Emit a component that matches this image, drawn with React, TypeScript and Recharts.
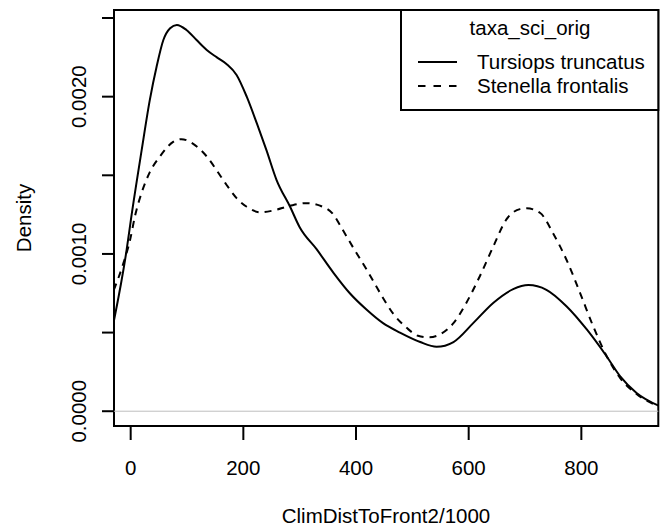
import { LineChart, Line, XAxis, YAxis, ReferenceLine, ReferenceArea } from 'recharts'

/* ── Density estimates ──────────────────────────────────────────────── */

const TURSIOPS_X = [
  -30, -7, 0.5, 19.5, 34, 46, 58, 70, 82, 99, 117, 135, 153, 170, 188, 206, 224, 241, 259, 283, 300, 330, 360, 389,
  419, 448, 478, 514, 543, 573, 608, 644, 679, 706, 738, 774, 810, 845, 869, 898, 937,
]
const TURSIOPS_Y = [
  0.00057, 0.00103, 0.00122, 0.00166, 0.00198, 0.00219, 0.00236, 0.002435, 0.002456, 0.002424, 0.00236, 0.002297,
  0.00225, 0.002208, 0.002138, 0.002, 0.00183, 0.00166, 0.00147, 0.0013, 0.00117, 0.00103, 0.00088, 0.00075, 0.000645,
  0.00056, 0.0005, 0.00044, 0.00041, 0.00044, 0.00056, 0.00069, 0.000776, 0.000802, 0.000772, 0.000666, 0.000518,
  0.000348, 0.000221, 0.000116, 0.000035,
]

const STENELLA_X = [
  -30, -13, -1, 7.6, 19.5, 34, 52, 76, 90, 111, 135, 153, 170, 188, 206, 230, 253, 283, 312, 336, 360, 372, 395, 419,
  443, 466, 490, 510, 530, 550, 573, 596, 620, 644, 667, 691, 703, 727, 750, 774, 798, 821, 845, 869, 898, 937,
]
const STENELLA_Y = [
  0.00077, 0.00094, 0.00109, 0.00124, 0.00139, 0.00152, 0.00162, 0.001714, 0.00173, 0.0017, 0.00162, 0.00153, 0.00144,
  0.001355, 0.0013, 0.001265, 0.001276, 0.001306, 0.001323, 0.001307, 0.00125, 0.00118, 0.00104, 0.0009, 0.00075,
  0.00062, 0.00053, 0.00048, 0.00047, 0.00049, 0.00056, 0.00069, 0.00086, 0.00105, 0.00122, 0.001285, 0.00129, 0.00126,
  0.00113, 0.00096, 0.00075, 0.00054, 0.00035, 0.00021, 0.00011, 0.00003,
]

const X_TICKS = [0, 200, 400, 600, 800]
const Y_TICKS = [0, 0.0005, 0.001, 0.0015, 0.002, 0.0025]
const Y_LABELLED = [0, 0.001, 0.002]

const X_DOMAIN: [number, number] = [-29.6, 936.6]
const Y_DOMAIN: [number, number] = [-0.000094, 0.002551]

const tursiops = TURSIOPS_X.map((x, i) => ({ x, y: TURSIOPS_Y[i] }))
const stenella = STENELLA_X.map((x, i) => ({ x, y: STENELLA_Y[i] }))

const FONT = '"Liberation Sans", Arial, Helvetica, sans-serif'
const FS = 20.5

/* ── Axis ticks (R style: rotated y labels, some ticks unlabelled) ──── */

function XTick({ x, y, payload }: any) {
  return (
    <text x={x} y={y + 33} textAnchor="middle" fontSize={FS} fontFamily={FONT} fill="#000">
      {payload.value}
    </text>
  )
}

function YTick({ y, payload }: any) {
  const v = payload.value as number
  if (!Y_LABELLED.some((t) => Math.abs(t - v) < 1e-9)) return null
  const bx = 86
  return (
    <text
      x={bx}
      y={y}
      transform={`rotate(-90, ${bx}, ${y})`}
      textAnchor="middle"
      fontSize={FS}
      fontFamily={FONT}
      fill="#000"
    >
      {v.toFixed(4)}
    </text>
  )
}

/* ── Component ──────────────────────────────────────────────────────── */

export default function App() {
  return (
    <div style={{ position: 'absolute', left: 0, top: 0, width: 663, height: 531, background: '#fff' }}>
      <LineChart width={663} height={531} margin={{ top: 10, right: 4.7, left: 14, bottom: 45 }}>
        <XAxis
          dataKey="x"
          type="number"
          domain={X_DOMAIN}
          ticks={X_TICKS}
          allowDataOverflow
          axisLine={false}
          tickSize={14}
          tickLine={{ stroke: '#000', strokeWidth: 2 }}
          tick={<XTick />}
          height={60}
        />
        <YAxis
          type="number"
          domain={Y_DOMAIN}
          ticks={Y_TICKS}
          allowDataOverflow
          axisLine={false}
          tickSize={12}
          tickLine={{ stroke: '#000', strokeWidth: 2 }}
          tick={<YTick />}
          width={100}
        />
        <ReferenceLine y={0} stroke="#bebebe" strokeWidth={1} />
        <Line
          data={tursiops}
          dataKey="y"
          type="monotone"
          stroke="#000"
          strokeWidth={2}
          dot={false}
          isAnimationActive={false}
        />
        <Line
          data={stenella}
          dataKey="y"
          type="monotone"
          stroke="#000"
          strokeWidth={2}
          strokeDasharray="7 6"
          dot={false}
          isAnimationActive={false}
        />
        <ReferenceArea
          x1={X_DOMAIN[0]}
          x2={X_DOMAIN[1]}
          y1={Y_DOMAIN[0]}
          y2={Y_DOMAIN[1]}
          fill="none"
          fillOpacity={0}
          stroke="#000"
          strokeWidth={2}
        />
      </LineChart>

      {/* Axis titles */}
      <svg
        width={663}
        height={531}
        style={{ position: 'absolute', left: 0, top: 0, pointerEvents: 'none' }}
        fontFamily={FONT}
      >
        <text x={31} y={218} transform="rotate(-90, 31, 218)" textAnchor="middle" fontSize={FS} fill="#000">
          Density
        </text>
        <text x={386} y={523} textAnchor="middle" fontSize={FS} fill="#000">
          ClimDistToFront2/1000
        </text>

        {/* Legend box */}
        <rect x={401} y={10} width={257.3} height={100} fill="#fff" stroke="#000" strokeWidth={2} />
        <text x={530} y={35} textAnchor="middle" fontSize={FS} fill="#000">
          taxa_sci_orig
        </text>
        <line x1={418} y1={62} x2={457} y2={62} stroke="#000" strokeWidth={2} />
        <text x={477} y={69} fontSize={FS} fill="#000">
          Tursiops truncatus
        </text>
        <line x1={418} y1={86} x2={457} y2={86} stroke="#000" strokeWidth={2} strokeDasharray="7.5 8" />
        <text x={477} y={93} fontSize={FS} fill="#000">
          Stenella frontalis
        </text>
      </svg>
    </div>
  )
}
